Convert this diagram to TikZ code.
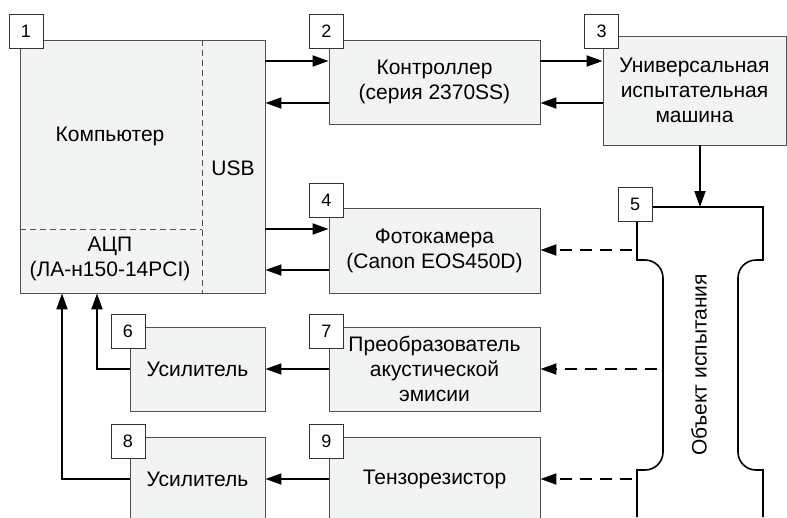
\documentclass[tikz,border=0pt]{standalone}
\usepackage{fontspec}
\setmainfont{Liberation Sans}
\usetikzlibrary{arrows.meta}
\definecolor{boxfill}{HTML}{F2F3F3}
\definecolor{boxline}{HTML}{505050}

\begin{document}
\begin{tikzpicture}[x=1pt,y=1pt,
    block/.style={draw=boxline,fill=boxfill,line width=0.9pt,align=center,
        font=\fontsize{21}{25}\selectfont},
    numbox/.style={draw=black!80,fill=white,line width=0.9pt,minimum width=34pt,
        minimum height=34pt,inner sep=0pt,font=\fontsize{18}{18}\selectfont},
    txt/.style={align=center,font=\fontsize{21}{25}\selectfont},
    arr/.style={line width=1.8pt,-{Triangle[length=16pt,width=11pt]}},
    darr/.style={arr,dash pattern=on 12pt off 8pt},
    sep/.style={draw=boxline,line width=0.9pt,dash pattern=on 6pt off 4pt},
    obj/.style={line width=1.6pt}]

\useasboundingbox (0,0) rectangle (787,-517);

% test object
\draw[obj] (637,-517) -- (637,-470) -- (645,-470) arc[start angle=-90,end angle=0,radius=18]
    -- (663,-278) arc[start angle=0,end angle=90,radius=18] -- (637,-260)
    -- (637,-207) -- (763,-207) -- (763,-260) -- (756,-260)
    arc[start angle=90,end angle=180,radius=18]
    -- (738,-452) arc[start angle=180,end angle=270,radius=18] -- (763,-470) -- (763,-517);
\node[txt,rotate=90] (objtext) at (699,-365) {Объект испытания};
\coordinate (obj1) at (632,-250);
\coordinate (obj2) at (657,-369);
\coordinate (obj3) at (632,-479);
\coordinate (objtop) at (700,-207);

% computer
\node[block,minimum width=245pt,minimum height=253pt] (pc) at (142.5,-166.5) {};
\draw[sep] ([xshift=59.5pt]pc.north) -- ([xshift=59.5pt]pc.south);
\draw[sep] ([yshift=-62.5pt]pc.west) -- ([xshift=59.5pt,yshift=-62.5pt]pc.center);
\node[txt] (pctext) at (110,-136) {Компьютер};
\node[txt] (usbtext) at (233,-168) {USB};
\node[txt] (adctext) at (110,-259) {АЦП\\(ЛА-н150-14PCI)};

% blocks
\node[block,minimum width=211pt,minimum height=84pt] (ctrl) at (434.5,-82) {Контроллер\\(серия 2370SS)};
\node[block,minimum width=183pt,minimum height=109pt] (machine) at (694.5,-90.5) {Универсальная\\испытательная\\машина};
\node[block,minimum width=211pt,minimum height=85pt] (cam) at (434.5,-250.5) {Фотокамера\\(Canon EOS450D)};
\node[block,minimum width=135pt,minimum height=84pt] (amp1) at (197.5,-369) {Усилитель};
\node[block,minimum width=211pt,minimum height=84pt] (conv) at (434.5,-369) {Преобразователь\\акустической\\эмисии};
\node[block,minimum width=135pt,minimum height=84pt] (amp2) at (197.5,-479) {Усилитель};
\node[block,minimum width=211pt,minimum height=84pt] (gauge) at (434.5,-479) {Тензорезистор};

% numbers
\node[numbox] (n1) at (26,-31.5) {1};
\node[numbox] (n2) at (326.5,-31.5) {2};
\node[numbox] (n3) at (601.5,-31.5) {3};
\node[numbox] (n4) at (326.5,-200) {4};
\node[numbox] (n5) at (635,-204.5) {5};
\node[numbox] (n6) at (128,-331.5) {6};
\node[numbox] (n7) at (326.5,-331.5) {7};
\node[numbox] (n8) at (128,-441.5) {8};
\node[numbox] (n9) at (326.5,-441.5) {9};

% links
\draw[arr] ([yshift=21pt]pc.east |- ctrl.west) -- ([yshift=21pt]ctrl.west);
\draw[arr] ([yshift=-21pt]ctrl.west) -- ([yshift=-21pt]pc.east |- ctrl.west);
\draw[arr] ([yshift=21pt]ctrl.east) -- ([yshift=21pt]machine.west |- ctrl.east);
\draw[arr] ([yshift=-21pt]machine.west |- ctrl.east) -- ([yshift=-21pt]ctrl.east);
\draw[arr] ([yshift=21.5pt]pc.east |- cam.west) -- ([yshift=21.5pt]cam.west);
\draw[arr] ([yshift=-19.5pt]cam.west) -- ([yshift=-19.5pt]pc.east |- cam.west);
\draw[arr] (machine.south -| objtop) -- (objtop);
\draw[darr] (obj1) -- (obj1 -| cam.east);
\draw[darr] (obj2) -- (obj2 -| conv.east);
\draw[darr] (obj3) -- (obj3 -| gauge.east);
\draw[arr] (conv.west) -- (amp1.east);
\draw[arr] (gauge.west) -- (amp2.east);
\draw[arr] (amp1.west) -| ([xshift=-45.5pt]pc.south);
\draw[arr] (amp2.west) -| ([xshift=-80.5pt]pc.south);

\end{tikzpicture}
\end{document}
